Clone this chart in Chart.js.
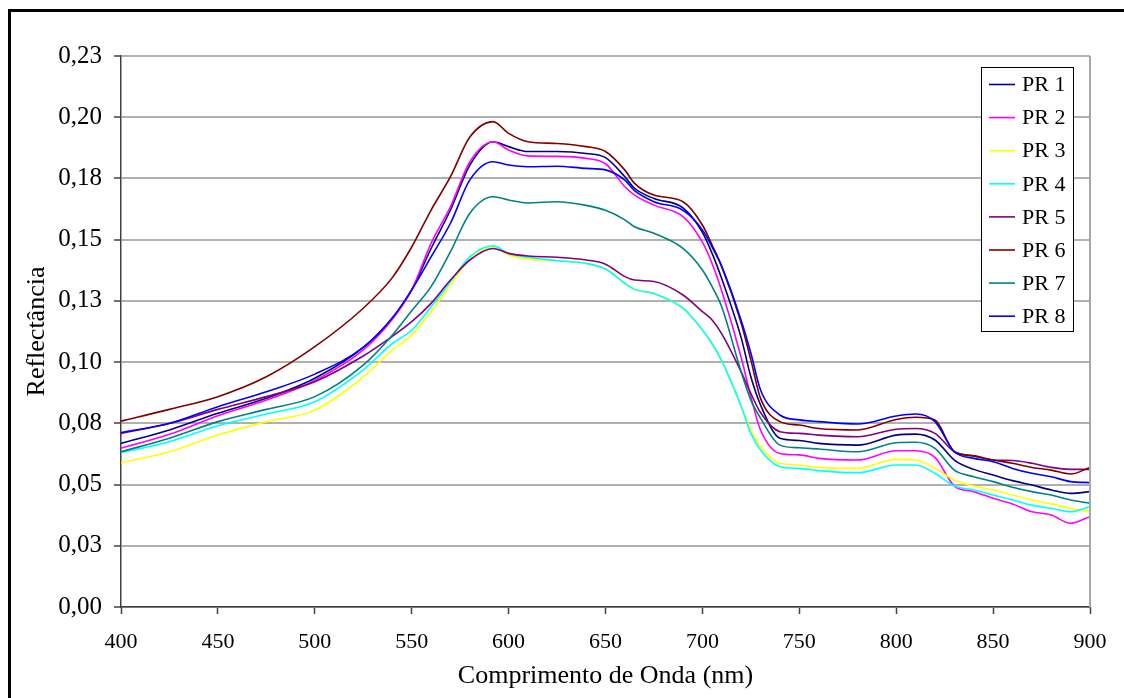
<!DOCTYPE html>
<html>
<head>
<meta charset="utf-8">
<script src="https://cdn.jsdelivr.net/npm/chart.js@4.4.0/dist/chart.umd.min.js"></script>
<style>
html, body { margin: 0; padding: 0; background: #fff; overflow: hidden; }
#frame { position: absolute; left: 8px; top: 9px; width: 1200px; height: 800px;
         border-left: 3px solid #000; border-top: 3px solid #000; }
#c { position: absolute; left: 0; top: 0; }
</style>
</head>
<body>
<div id="frame"></div>
<canvas id="c" width="1124" height="698"></canvas>
<script>
// comprimentos de onda (nm) onde as curvas foram lidas
var wavelengths = [400, 425, 450, 475, 500, 525, 540, 550, 560, 570, 580, 592, 600, 610, 625, 640, 650, 660, 665, 675,
                   690, 700, 705, 710, 720, 725, 730, 740, 750, 760, 780, 800, 810, 820, 830, 840, 850, 860, 870, 880, 890, 900];

var pr1 = [0.0668, 0.0723, 0.0791, 0.0852, 0.0934, 0.106, 0.118, 0.1295, 0.1464, 0.1621, 0.1805, 0.190, 0.188, 0.186, 0.186, 0.1852, 0.1835, 0.1757, 0.171, 0.1668,
           0.163, 0.153, 0.1444, 0.134, 0.110, 0.094, 0.0825, 0.0689, 0.068, 0.0668, 0.0661, 0.0702, 0.0706, 0.0682, 0.060, 0.0562, 0.0539, 0.0516, 0.0498, 0.0478, 0.0464, 0.0471];
var pr2 = [0.0648, 0.0705, 0.0781, 0.0845, 0.0925, 0.105, 0.1175, 0.1295, 0.1485, 0.1635, 0.1818, 0.190, 0.1866, 0.1842, 0.184, 0.1832, 0.181, 0.1716, 0.1682, 0.1641,
           0.1594, 0.149, 0.1403, 0.129, 0.102, 0.0859, 0.0723, 0.0627, 0.0621, 0.0607, 0.060, 0.0638, 0.0638, 0.0611, 0.0494, 0.0471, 0.0444, 0.0421, 0.0389, 0.0376, 0.0342, 0.0369];
var pr3 = [0.0589, 0.0634, 0.0702, 0.0757, 0.0804, 0.094, 0.1049, 0.111, 0.1206, 0.1315, 0.142, 0.147, 0.1437, 0.142, 0.1414, 0.1403, 0.138, 0.1322, 0.1297, 0.128,
           0.122, 0.1131, 0.1076, 0.1005, 0.082, 0.0723, 0.0655, 0.0587, 0.058, 0.057, 0.0566, 0.0603, 0.060, 0.0566, 0.0519, 0.0494, 0.0478, 0.0457, 0.0437, 0.0421, 0.0403, 0.0389];
var pr4 = [0.063, 0.0675, 0.074, 0.0788, 0.0838, 0.0968, 0.1076, 0.113, 0.1226, 0.1328, 0.143, 0.1475, 0.1444, 0.1428, 0.1414, 0.1403, 0.138, 0.1322, 0.1297, 0.128,
           0.122, 0.1131, 0.1076, 0.1005, 0.082, 0.0709, 0.0641, 0.0573, 0.0566, 0.0557, 0.0548, 0.058, 0.058, 0.0546, 0.0494, 0.0478, 0.0457, 0.0437, 0.0416, 0.0403, 0.0389, 0.041];
var pr5 = [0.0709, 0.0749, 0.0807, 0.0859, 0.092, 0.1025, 0.1105, 0.1165, 0.124, 0.1335, 0.1417, 0.1464, 0.1444, 0.1433, 0.1428, 0.1417, 0.140, 0.1349, 0.1335, 0.1329,
           0.1274, 0.1206, 0.1172, 0.1115, 0.096, 0.0872, 0.0794, 0.0716, 0.0709, 0.0702, 0.0695, 0.0726, 0.0729, 0.0709, 0.0634, 0.0617, 0.060, 0.0598, 0.0587, 0.057, 0.0562, 0.0562];
var pr6 = [0.0759, 0.0807, 0.0859, 0.094, 0.1063, 0.122, 0.1345, 0.147, 0.1621, 0.1757, 0.1919, 0.1982, 0.1934, 0.190, 0.1893, 0.188, 0.186, 0.1784, 0.173, 0.1682,
           0.1655, 0.156, 0.1478, 0.139, 0.116, 0.1009, 0.0852, 0.0757, 0.0743, 0.0729, 0.0723, 0.0766, 0.0775, 0.0764, 0.0634, 0.0617, 0.060, 0.0587, 0.057, 0.0559, 0.0543, 0.057];
var pr7 = [0.0634, 0.0689, 0.0757, 0.0807, 0.0859, 0.0988, 0.111, 0.121, 0.1308, 0.1451, 0.1608, 0.1675, 0.1662, 0.165, 0.1655, 0.164, 0.162, 0.1581, 0.1553, 0.1526,
           0.1464, 0.1376, 0.1308, 0.1225, 0.096, 0.0845, 0.0771, 0.0661, 0.065, 0.0645, 0.0634, 0.0671, 0.0673, 0.0648, 0.0559, 0.0532, 0.0512, 0.0489, 0.0471, 0.0457, 0.0437, 0.0424];
var pr8 = [0.0712, 0.075, 0.0818, 0.0879, 0.0951, 0.106, 0.118, 0.1295, 0.143, 0.1567, 0.1744, 0.1818, 0.1805, 0.1798, 0.180, 0.1791, 0.1785, 0.1743, 0.170, 0.1655,
           0.162, 0.154, 0.147, 0.139, 0.117, 0.1037, 0.0886, 0.0784, 0.0764, 0.0757, 0.0747, 0.078, 0.0788, 0.0757, 0.0634, 0.0607, 0.0593, 0.0566, 0.0546, 0.0532, 0.0512, 0.0508];

var seriesNames = ["PR 1", "PR 2", "PR 3", "PR 4", "PR 5", "PR 6", "PR 7", "PR 8"];
var seriesValues = [pr1, pr2, pr3, pr4, pr5, pr6, pr7, pr8];
var seriesColors = ["#000080", "#ff00ff", "#ffff00", "#00ffff", "#800080", "#800000", "#008080", "#0000ff"];

var yTickValues = [0, 0.025, 0.05, 0.075, 0.1, 0.125, 0.15, 0.175, 0.2, 0.225];
var yTickLabels = ["0,00", "0,03", "0,05", "0,08", "0,10", "0,13", "0,15", "0,18", "0,20", "0,23"];

var FONT = "'Liberation Serif', 'Times New Roman', serif";

var datasets = seriesValues.map(function (values, i) {
    return {
        label: seriesNames[i],
        data: values.map(function (v, j) { return { x: wavelengths[j], y: v }; }),
        borderColor: seriesColors[i],
        borderWidth: 1.6,
        pointRadius: 0,
        cubicInterpolationMode: "monotone",
        fill: false,
        order: 8 - i
    };
});

// legenda em caixa dentro da área do gráfico, estilo Excel
var legendBox = {
    id: "legendBox",
    afterDraw: function (chart) {
        var ctx = chart.ctx;
        var area = chart.chartArea;
        ctx.save();
        // borda direita da área de plotagem
        ctx.strokeStyle = "#a8a8a8";
        ctx.lineWidth = 2;
        ctx.beginPath();
        ctx.moveTo(area.right, area.top);
        ctx.lineTo(area.right, area.bottom);
        ctx.stroke();

        var bx = 981.5, by = 67.5, bw = 92, bh = 264;
        ctx.fillStyle = "#fff";
        ctx.fillRect(bx, by, bw, bh);
        ctx.strokeStyle = "#000";
        ctx.lineWidth = 1;
        ctx.strokeRect(bx, by, bw, bh);
        ctx.font = "22px " + FONT;
        ctx.textBaseline = "middle";
        ctx.textAlign = "left";
        chart.data.datasets.forEach(function (ds, i) {
            var y = 84.5 + i * 33.1;
            ctx.strokeStyle = ds.borderColor;
            ctx.lineWidth = 1.6;
            ctx.beginPath();
            ctx.moveTo(989, y);
            ctx.lineTo(1015, y);
            ctx.stroke();
            ctx.fillStyle = "#000";
            ctx.fillText(ds.label, 1022, y + 1);
        });
        ctx.restore();
    }
};

new Chart(document.getElementById("c").getContext("2d"), {
    type: "line",
    data: { datasets: datasets },
    options: {
        responsive: false,
        animation: false,
        layout: { padding: { left: 0, right: 34, top: 56, bottom: 0 } },
        plugins: { legend: { display: false }, tooltip: { enabled: false } },
        scales: {
            x: {
                type: "linear",
                min: 400,
                max: 900,
                ticks: { stepSize: 50, color: "#000", padding: 15, maxRotation: 0,
                         font: { family: FONT, size: 22 } },
                grid: { drawOnChartArea: false, drawTicks: true, tickLength: 7, tickColor: "#404040", tickWidth: 1.5 },
                border: { color: "#404040", width: 1.5 },
                title: { display: true, text: "Comprimento de Onda (nm)", color: "#000",
                         font: { family: FONT, size: 26 }, padding: { top: 0, bottom: 6 } },
                afterFit: function (scale) { scale.height = 91; }
            },
            y: {
                type: "linear",
                min: 0,
                max: 0.225,
                afterBuildTicks: function (scale) {
                    scale.ticks = yTickValues.map(function (v) { return { value: v }; });
                },
                ticks: {
                    color: "#000",
                    padding: 12,
                    font: { family: FONT, size: 25 },
                    callback: function (value, index) { return yTickLabels[index]; }
                },
                grid: { color: "#b0b0b0", lineWidth: 2, tickLength: 7, tickColor: "#404040", tickWidth: 1.5 },
                border: { color: "#404040", width: 1.5 },
                title: { display: true, text: "Reflectância", color: "#000",
                         font: { family: FONT, size: 26 }, padding: { top: 22, bottom: 0 } },
                afterFit: function (scale) { scale.width = 121; }
            }
        }
    },
    plugins: [legendBox]
});
</script>
</body>
</html>
